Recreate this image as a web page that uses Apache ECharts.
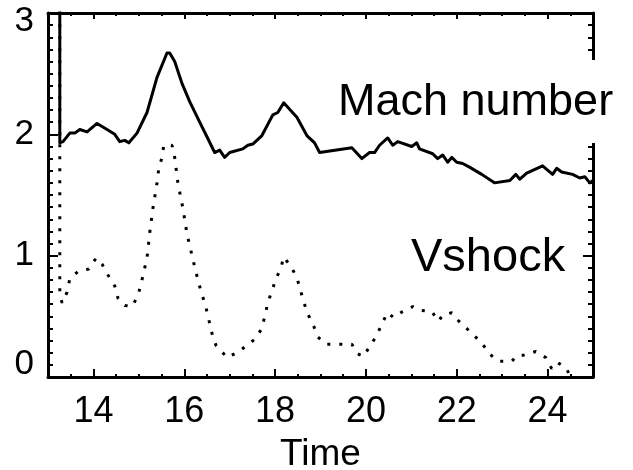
<!DOCTYPE html>
<html>
<head>
<meta charset="utf-8">
<script src="https://cdn.jsdelivr.net/npm/echarts@6/dist/echarts.min.js"></script>
<style>
  html, body { margin: 0; padding: 0; background: #fff; }
  #chart { width: 633px; height: 470px; }
</style>
</head>
<body>
<div id="chart"></div>
<script>
// Mach number (solid): [time, value]
const machData = [
  [13.26, 3.5], [13.26, 1.93], [13.33, 1.94], [13.48, 2.01], [13.59, 2.01], [13.70, 2.04],
  [13.86, 2.02], [14.08, 2.09], [14.30, 2.04], [14.47, 2.00], [14.58, 1.94], [14.69, 1.95],
  [14.78, 1.93], [14.96, 2.01], [15.18, 2.18], [15.40, 2.47], [15.62, 2.67], [15.68, 2.67],
  [15.79, 2.60], [15.95, 2.42], [16.12, 2.27], [16.34, 2.10], [16.50, 1.98], [16.67, 1.85],
  [16.78, 1.87], [16.89, 1.81], [17.00, 1.85], [17.29, 1.88], [17.40, 1.91], [17.51, 1.92],
  [17.71, 1.99], [17.95, 2.16], [18.06, 2.18], [18.19, 2.26], [18.48, 2.14], [18.70, 1.99],
  [18.87, 1.93], [18.98, 1.85], [19.69, 1.89], [19.91, 1.80], [20.08, 1.85], [20.19, 1.85],
  [20.30, 1.91], [20.48, 1.97], [20.59, 1.91], [20.70, 1.94], [21.01, 1.90], [21.12, 1.93],
  [21.18, 1.88], [21.47, 1.84], [21.58, 1.80], [21.69, 1.83], [21.80, 1.77], [21.89, 1.81],
  [22.00, 1.77], [22.13, 1.76], [22.28, 1.73], [22.55, 1.67], [22.83, 1.60], [23.17, 1.62],
  [23.30, 1.67], [23.39, 1.63], [23.54, 1.68], [23.89, 1.74], [24.11, 1.67], [24.20, 1.72],
  [24.31, 1.69], [24.55, 1.67], [24.71, 1.64], [24.82, 1.65], [24.93, 1.60], [25.0, 1.62]
]

// Vshock (dotted)
const vshockData = [
  [13.26, 3.5], [13.26, 0.68], [13.31, 0.61], [13.42, 0.70], [13.48, 0.81], [13.66, 0.87],
  [13.90, 0.89], [14.06, 0.98], [14.19, 0.93], [14.32, 0.84], [14.47, 0.75], [14.54, 0.65],
  [14.69, 0.59], [14.85, 0.58], [14.98, 0.67], [15.05, 0.77], [15.18, 0.98], [15.24, 1.19],
  [15.31, 1.39], [15.40, 1.60], [15.44, 1.72], [15.51, 1.81], [15.55, 1.91], [15.73, 1.91],
  [15.79, 1.81], [15.86, 1.60], [15.97, 1.39], [16.06, 1.18], [16.19, 0.97], [16.32, 0.77],
  [16.48, 0.57], [16.61, 0.36], [16.70, 0.26], [16.85, 0.20], [16.94, 0.16], [17.16, 0.20],
  [17.38, 0.26], [17.55, 0.31], [17.71, 0.40], [17.84, 0.61], [18.02, 0.81], [18.13, 0.90],
  [18.19, 0.99], [18.35, 0.91], [18.48, 0.82], [18.63, 0.62], [18.72, 0.52], [18.85, 0.42],
  [18.94, 0.33], [19.12, 0.27], [19.38, 0.27], [19.69, 0.27], [19.82, 0.19], [19.95, 0.17],
  [20.11, 0.27], [20.24, 0.34], [20.35, 0.44], [20.48, 0.53], [20.61, 0.49], [20.81, 0.54],
  [21.03, 0.58], [21.18, 0.55], [21.45, 0.54], [21.60, 0.46], [21.69, 0.51], [21.89, 0.53],
  [22.02, 0.47], [22.22, 0.40], [22.39, 0.34], [22.57, 0.27], [22.72, 0.19], [22.92, 0.13],
  [23.21, 0.13], [23.34, 0.18], [23.47, 0.18], [23.74, 0.21], [23.96, 0.16], [24.09, 0.07],
  [24.22, 0.12], [24.42, 0.07], [24.53, -0.03]
]

const xRange = [13, 25]
const yRange = [0, 3]
const xMajorTicks = [14, 16, 18, 20, 22, 24]
const xMinorStep = 0.5
const yTickStep = 1

const font = '"Liberation Sans", Helvetica, Arial, sans-serif'
const tickStyle = { color: '#000', width: 2 }

// x axis: one axis draws the line + 0.5 minor ticks, a twin draws the long ticks at even times
function xAxisOf(position, major) {
  const bottom = position === 'bottom'
  return {
    type: 'value',
    position: position,
    min: xRange[0],
    max: xRange[1],
    interval: xMinorStep,
    name: bottom && !major ? 'Time' : '',
    nameLocation: 'middle',
    nameGap: 59,
    nameTextStyle: { color: '#000', fontSize: 37, fontFamily: font },
    axisLine: { show: !major, onZero: false, lineStyle: { color: '#000', width: 3 } },
    axisTick: major
      ? { show: true, inside: true, length: bottom ? 8 : 6, customValues: xMajorTicks, lineStyle: tickStyle }
      : { show: true, inside: true, length: 3, lineStyle: tickStyle },
    axisLabel: {
      show: bottom && !major,
      customValues: xMajorTicks,
      margin: 17,
      color: '#000',
      fontSize: 36,
      fontFamily: font
    },
    splitLine: { show: false }
  }
}

function yAxisOf(position, showLabel) {
  return {
    type: 'value',
    position: position,
    min: yRange[0],
    max: yRange[1],
    interval: yTickStep,
    axisLine: { show: true, onZero: false, lineStyle: { color: '#000', width: 3 } },
    axisTick: { show: true, inside: true, length: 10, lineStyle: tickStyle },
    minorTick: { show: true, splitNumber: 10, length: 5, lineStyle: tickStyle },
    axisLabel: {
      show: showLabel,
      margin: 14,
      color: '#000',
      fontSize: 35,
      fontFamily: font,
      verticalAlignMinLabel: 'bottom',
      verticalAlignMaxLabel: 'top',
      formatter(v) {
        if (v === yRange[1]) return '{hi|' + v + '}'
        if (v === yRange[0]) return '{lo|' + v + '}'
        return '{mid|' + v + '}'
      },
      rich: {
        hi: { fontSize: 35, fontFamily: font, color: '#000', lineHeight: 16 },
        mid: { fontSize: 35, fontFamily: font, color: '#000' },
        lo: { fontSize: 35, fontFamily: font, color: '#000', lineHeight: 25 }
      }
    },
    splitLine: { show: false }
  }
}

const chart = echarts.init(document.getElementById('chart'), null, { renderer: 'canvas' })
chart.setOption({
  backgroundColor: '#fff',
  animation: false,
  title: [
    {
      // white box hides the right axis but sits below the curves
      text: 'Mach number',
      left: 333,
      top: 60,
      z: 1,
      padding: [20, 20, 18, 5],
      backgroundColor: '#fff',
      textStyle: { color: '#000', fontSize: 45, fontWeight: 'normal', fontFamily: font }
    },
    {
      text: 'Vshock',
      left: 411,
      top: 235,
      z: 1,
      padding: 0,
      textStyle: { color: '#000', fontSize: 47, fontWeight: 'normal', fontFamily: font }
    }
  ],
  grid: {
    left: 48,
    right: 40,
    top: 13,
    bottom: 93,
    containLabel: false,
    outerBoundsMode: 'none'
  },
  xAxis: [
    xAxisOf('bottom', false),
    xAxisOf('bottom', true),
    xAxisOf('top', false),
    xAxisOf('top', true)
  ],
  yAxis: [yAxisOf('left', true), yAxisOf('right', false)],
  series: [
    {
      name: 'Mach number',
      type: 'line',
      xAxisIndex: 0,
      yAxisIndex: 0,
      data: machData,
      showSymbol: false,
      clip: true,
      lineStyle: { color: '#000', width: 3, join: 'round' }
    },
    {
      name: 'Vshock',
      type: 'line',
      xAxisIndex: 0,
      yAxisIndex: 0,
      data: vshockData,
      showSymbol: false,
      clip: true,
      lineStyle: { color: '#000', width: 3, type: [3, 9] }
    }
  ]
})
</script>
</body>
</html>
